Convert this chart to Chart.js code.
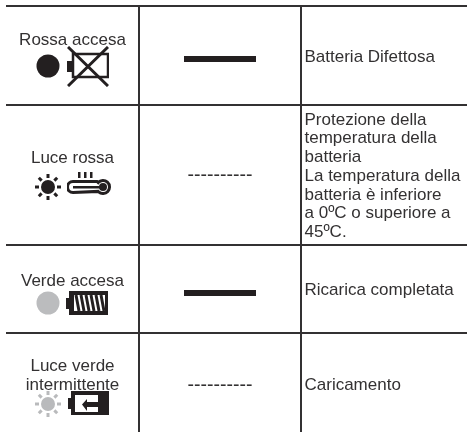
<!DOCTYPE html>
<html>
<head>
<meta charset="utf-8">
<style>
html, body { margin: 0; padding: 0; background: #fff; }
#box { width: 467px; height: 432px; }
</style>
<script src="https://cdn.jsdelivr.net/npm/chart.js@4"></script>
</head>
<body>
<div id="box"><canvas id="tableChart"></canvas></div>
<script>
// table frame, in picture units
const colEdges = [6, 139, 301, 467];
const rowEdges = [6, 105, 245, 333];
const bottomEdge = 432;

const statusLabels = [
  ["Rossa accesa", 45],
  ["Luce rossa", 163],
  ["Verde accesa", 286],
  ["Luce verde", 371],
  ["intermittente", 390]
];
const descLabels = [
  ["Batteria Difettosa", 62],
  ["Protezione della", 125],
  ["temperatura della", 143],
  ["batteria", 162],
  ["La temperatura della", 181],
  ["batteria è inferiore", 200],
  ["a 0ºC o superiore a", 218],
  ["45ºC.", 237],
  ["Ricarica completata", 295],
  ["Caricamento", 390]
];

const solidBarX = [184, 256];
const solidBarY = [59, 293];
const dashedText = "----------";
const dashedX = 220;
const dashedY = [181, 391];

const dotX = [48, 48];
const dotY = [66, 303];
const dotColors = ["#231f20", "#bbbcbe"];

const iconX = [88, 48, 89, 87, 48, 88.5];
const iconY = [66.5, 187, 183, 303, 404, 403];
const iconNames = ["batteryCross", "sunDark", "thermo", "batteryFull", "sunLight", "batteryCharge"];

function makeIcon(w, h, draw) {
  const c = document.createElement("canvas");
  c.width = w;
  c.height = h;
  const g = c.getContext("2d");
  g.strokeStyle = "#231f20";
  g.fillStyle = "#231f20";
  draw(g, w, h);
  return c;
}

function sun(color) {
  return makeIcon(26, 26, (g) => {
    g.fillStyle = color;
    g.strokeStyle = color;
    g.beginPath();
    g.arc(13, 13, 7, 0, Math.PI * 2);
    g.fill();
    g.lineWidth = 3;
    for (let i = 0; i < 8; i++) {
      const a = i * Math.PI / 4;
      g.beginPath();
      g.moveTo(13 + Math.cos(a) * 9, 13 + Math.sin(a) * 9);
      g.lineTo(13 + Math.cos(a) * 13, 13 + Math.sin(a) * 13);
      g.stroke();
    }
  });
}

const icons = {
  sunDark: sun("#231f20"),
  sunLight: sun("#b9babc"),
  batteryCross: makeIcon(42, 41, (g) => {
    g.fillRect(0, 15, 5, 11);
    g.lineWidth = 2.5;
    g.strokeRect(6, 8, 35, 23);
    g.lineWidth = 3;
    g.beginPath();
    g.moveTo(1, 1); g.lineTo(41, 40);
    g.moveTo(41, 1); g.lineTo(1, 40);
    g.stroke();
  }),
  thermo: makeIcon(44, 24, (g) => {
    g.fillRect(11, 1, 2.5, 6);
    g.fillRect(17, 1, 2.5, 6);
    g.fillRect(23, 1, 2.5, 6);
    g.lineWidth = 3;
    g.beginPath();
    g.moveTo(6, 10.5);
    g.lineTo(30, 10.5);
    g.arc(36, 16, 6.5, -2.4, 2.4);
    g.lineTo(6, 21.5);
    g.arc(6, 16, 5.5, Math.PI / 2, -Math.PI / 2);
    g.stroke();
    g.fillRect(6, 15, 28, 2.5);
    g.beginPath();
    g.arc(36, 16, 4, 0, Math.PI * 2);
    g.fill();
  }),
  batteryFull: makeIcon(42, 24, (g) => {
    g.fillRect(0, 7, 3, 11);
    g.fillRect(3, 0, 39, 24);
    g.fillStyle = "#fff";
    g.fillRect(8, 4, 31, 16);
    g.lineWidth = 3;
    for (let i = 0; i < 6; i++) {
      g.beginPath();
      g.moveTo(10 + i * 5, 4);
      g.lineTo(13 + i * 5, 20);
      g.stroke();
    }
  }),
  batteryCharge: makeIcon(41, 24, (g) => {
    g.fillRect(0, 7, 3, 11);
    g.fillRect(3, 0, 38, 24);
    g.fillStyle = "#fff";
    g.fillRect(7, 4, 23, 17);
    g.fillStyle = "#231f20";
    g.beginPath();
    g.moveTo(14, 13.5); g.lineTo(19, 8); g.lineTo(19, 11);
    g.lineTo(30, 11); g.lineTo(30, 16); g.lineTo(19, 16); g.lineTo(19, 20);
    g.closePath();
    g.fill();
  })
};

// grid lines go through the scales as one line dataset each
const gridSets = [];
rowEdges.forEach((y) => gridSets.push({
  data: [{ x: colEdges[0], y }, { x: colEdges[3], y }]
}));
[colEdges[1], colEdges[2]].forEach((x) => gridSets.push({
  data: [{ x, y: rowEdges[0] }, { x, y: bottomEdge }]
}));
gridSets.forEach((s) => {
  s.type = "line";
  s.borderColor = "#333132";
  s.borderWidth = 2;
  s.pointRadius = 0;
});

const barSets = solidBarY.map((y) => ({
  type: "line",
  data: [{ x: solidBarX[0], y }, { x: solidBarX[1], y }],
  borderColor: "#231f20",
  borderWidth: 6,
  pointRadius: 0
}));

const tableText = {
  id: "tableText",
  afterDatasetsDraw(chart) {
    const { ctx, scales: { x, y } } = chart;
    ctx.save();
    ctx.font = "17px 'Liberation Sans'";
    ctx.fillStyle = "#333132";
    ctx.textBaseline = "alphabetic";
    ctx.textAlign = "center";
    statusLabels.forEach(([t, ty]) => {
      ctx.fillText(t, x.getPixelForValue(72.5), y.getPixelForValue(ty));
    });
    ctx.textAlign = "left";
    descLabels.forEach(([t, ty]) => {
      ctx.fillText(t, x.getPixelForValue(304.5), y.getPixelForValue(ty));
    });
    ctx.textAlign = "center";
    ctx.font = "19.5px 'Liberation Sans'";
    dashedY.forEach((ty) => {
      ctx.fillText(dashedText, x.getPixelForValue(dashedX), y.getPixelForValue(ty));
    });
    ctx.restore();
  }
};

new Chart(document.getElementById("tableChart"), {
  type: "scatter",
  data: {
    datasets: [
      ...gridSets,
      ...barSets,
      {
        data: dotX.map((x, i) => ({ x, y: dotY[i] })),
        pointRadius: 11.5,
        pointBackgroundColor: dotColors,
        pointBorderWidth: 0
      },
      {
        data: iconX.map((x, i) => ({ x, y: iconY[i] })),
        pointStyle: iconNames.map((n) => icons[n]),
        pointRadius: 10
      }
    ]
  },
  options: {
    responsive: true,
    maintainAspectRatio: false,
    animation: false,
    layout: { padding: 0, autoPadding: false },
    plugins: { legend: { display: false }, tooltip: { enabled: false } },
    scales: {
      x: { type: "linear", min: 0, max: 467, display: false },
      y: { type: "linear", min: 0, max: 432, reverse: true, display: false }
    }
  },
  plugins: [tableText]
});
</script>
</body>
</html>
